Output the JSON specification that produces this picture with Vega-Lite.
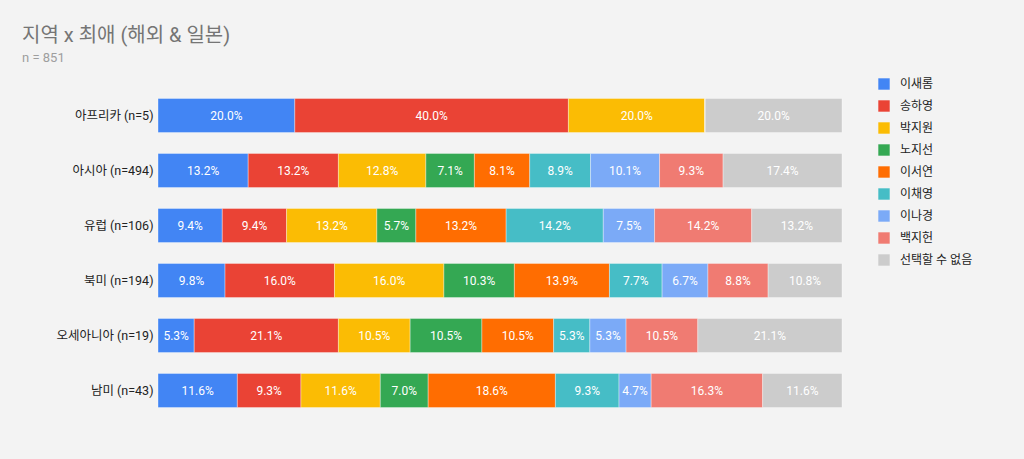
{
  "$schema": "https://vega.github.io/schema/vega-lite/v6.json",
  "description": "지역 x 최애 (해외 & 일본), 100% stacked bars",
  "autosize": {"type": "none"},
  "width": 684,
  "height": 330,
  "padding": {"left": 158, "top": 88, "right": 182, "bottom": 41},
  "background": "#f3f3f3",
  "title": {
    "text": "지역 x 최애 (해외 & 일본)",
    "subtitle": "n = 851",
    "anchor": "start",
    "frame": "group",
    "dx": -136,
    "offset": 13,
    "font": "Roboto, Noto Sans CJK KR",
    "fontSize": 20,
    "fontWeight": "normal",
    "color": "#757575",
    "subtitleFont": "Roboto, Noto Sans CJK KR",
    "subtitleFontSize": 13,
    "subtitleColor": "#9e9e9e",
    "subtitlePadding": 6
  },
  "data": {
    "values": [
      {"region": "아프리카 (n=5)", "pick": "이새롬", "k": 1, "pct": 0.2},
      {"region": "아프리카 (n=5)", "pick": "송하영", "k": 2, "pct": 0.4},
      {"region": "아프리카 (n=5)", "pick": "박지원", "k": 3, "pct": 0.2},
      {"region": "아프리카 (n=5)", "pick": "노지선", "k": 4, "pct": 0},
      {"region": "아프리카 (n=5)", "pick": "이서연", "k": 5, "pct": 0},
      {"region": "아프리카 (n=5)", "pick": "이채영", "k": 6, "pct": 0},
      {"region": "아프리카 (n=5)", "pick": "이나경", "k": 7, "pct": 0},
      {"region": "아프리카 (n=5)", "pick": "백지헌", "k": 8, "pct": 0},
      {"region": "아프리카 (n=5)", "pick": "선택할 수 없음", "k": 9, "pct": 0.2},

      {"region": "아시아 (n=494)", "pick": "이새롬", "k": 1, "pct": 0.132},
      {"region": "아시아 (n=494)", "pick": "송하영", "k": 2, "pct": 0.132},
      {"region": "아시아 (n=494)", "pick": "박지원", "k": 3, "pct": 0.128},
      {"region": "아시아 (n=494)", "pick": "노지선", "k": 4, "pct": 0.071},
      {"region": "아시아 (n=494)", "pick": "이서연", "k": 5, "pct": 0.081},
      {"region": "아시아 (n=494)", "pick": "이채영", "k": 6, "pct": 0.089},
      {"region": "아시아 (n=494)", "pick": "이나경", "k": 7, "pct": 0.101},
      {"region": "아시아 (n=494)", "pick": "백지헌", "k": 8, "pct": 0.093},
      {"region": "아시아 (n=494)", "pick": "선택할 수 없음", "k": 9, "pct": 0.174},

      {"region": "유럽 (n=106)", "pick": "이새롬", "k": 1, "pct": 0.094},
      {"region": "유럽 (n=106)", "pick": "송하영", "k": 2, "pct": 0.094},
      {"region": "유럽 (n=106)", "pick": "박지원", "k": 3, "pct": 0.132},
      {"region": "유럽 (n=106)", "pick": "노지선", "k": 4, "pct": 0.057},
      {"region": "유럽 (n=106)", "pick": "이서연", "k": 5, "pct": 0.132},
      {"region": "유럽 (n=106)", "pick": "이채영", "k": 6, "pct": 0.142},
      {"region": "유럽 (n=106)", "pick": "이나경", "k": 7, "pct": 0.075},
      {"region": "유럽 (n=106)", "pick": "백지헌", "k": 8, "pct": 0.142},
      {"region": "유럽 (n=106)", "pick": "선택할 수 없음", "k": 9, "pct": 0.132},

      {"region": "북미 (n=194)", "pick": "이새롬", "k": 1, "pct": 0.098},
      {"region": "북미 (n=194)", "pick": "송하영", "k": 2, "pct": 0.16},
      {"region": "북미 (n=194)", "pick": "박지원", "k": 3, "pct": 0.16},
      {"region": "북미 (n=194)", "pick": "노지선", "k": 4, "pct": 0.103},
      {"region": "북미 (n=194)", "pick": "이서연", "k": 5, "pct": 0.139},
      {"region": "북미 (n=194)", "pick": "이채영", "k": 6, "pct": 0.077},
      {"region": "북미 (n=194)", "pick": "이나경", "k": 7, "pct": 0.067},
      {"region": "북미 (n=194)", "pick": "백지헌", "k": 8, "pct": 0.088},
      {"region": "북미 (n=194)", "pick": "선택할 수 없음", "k": 9, "pct": 0.108},

      {"region": "오세아니아 (n=19)", "pick": "이새롬", "k": 1, "pct": 0.053},
      {"region": "오세아니아 (n=19)", "pick": "송하영", "k": 2, "pct": 0.211},
      {"region": "오세아니아 (n=19)", "pick": "박지원", "k": 3, "pct": 0.105},
      {"region": "오세아니아 (n=19)", "pick": "노지선", "k": 4, "pct": 0.105},
      {"region": "오세아니아 (n=19)", "pick": "이서연", "k": 5, "pct": 0.105},
      {"region": "오세아니아 (n=19)", "pick": "이채영", "k": 6, "pct": 0.053},
      {"region": "오세아니아 (n=19)", "pick": "이나경", "k": 7, "pct": 0.053},
      {"region": "오세아니아 (n=19)", "pick": "백지헌", "k": 8, "pct": 0.105},
      {"region": "오세아니아 (n=19)", "pick": "선택할 수 없음", "k": 9, "pct": 0.211},

      {"region": "남미 (n=43)", "pick": "이새롬", "k": 1, "pct": 0.116},
      {"region": "남미 (n=43)", "pick": "송하영", "k": 2, "pct": 0.093},
      {"region": "남미 (n=43)", "pick": "박지원", "k": 3, "pct": 0.116},
      {"region": "남미 (n=43)", "pick": "노지선", "k": 4, "pct": 0.07},
      {"region": "남미 (n=43)", "pick": "이서연", "k": 5, "pct": 0.186},
      {"region": "남미 (n=43)", "pick": "이채영", "k": 6, "pct": 0.093},
      {"region": "남미 (n=43)", "pick": "이나경", "k": 7, "pct": 0.047},
      {"region": "남미 (n=43)", "pick": "백지헌", "k": 8, "pct": 0.163},
      {"region": "남미 (n=43)", "pick": "선택할 수 없음", "k": 9, "pct": 0.116}
    ]
  },
  "encoding": {
    "y": {
      "field": "region",
      "type": "nominal",
      "sort": null,
      "title": null,
      "scale": {"paddingInner": 0.38, "paddingOuter": 0.19},
      "axis": {
        "domain": false,
        "ticks": false,
        "labelPadding": 5,
        "labelFont": "Roboto, Noto Sans CJK KR",
        "labelFontSize": 12.5,
        "labelColor": "#222222"
      }
    },
    "x": {
      "field": "pct",
      "type": "quantitative",
      "stack": "normalize",
      "title": null,
      "axis": null
    },
    "order": {"field": "k", "type": "quantitative"}
  },
  "layer": [
    {
      "mark": {"type": "bar", "stroke": "#ffffff", "strokeOpacity": 0.35, "strokeWidth": 1},
      "encoding": {
        "color": {
          "field": "pick",
          "type": "nominal",
          "sort": ["이새롬", "송하영", "박지원", "노지선", "이서연", "이채영", "이나경", "백지헌", "선택할 수 없음"],
          "scale": {
            "domain": ["이새롬", "송하영", "박지원", "노지선", "이서연", "이채영", "이나경", "백지헌", "선택할 수 없음"],
            "range": ["#4285f4", "#ea4335", "#fbbc04", "#34a853", "#ff6d01", "#46bdc6", "#7baaf7", "#f07b72", "#cccccc"]
          },
          "legend": {
            "title": null,
            "orient": "none",
            "legendX": 720,
            "legendY": -10,
            "symbolType": "square",
            "symbolSize": 130,
            "symbolStrokeWidth": 0,
            "symbolOpacity": 1,
            "labelFont": "Roboto, Noto Sans CJK KR",
            "labelFontSize": 12,
            "labelColor": "#222222",
            "labelOffset": 10,
            "rowPadding": 10
          }
        }
      }
    },
    {
      "transform": [{"filter": "datum.pct > 0"}],
      "mark": {"type": "text", "color": "#ffffff", "font": "Roboto", "fontSize": 12, "baseline": "middle"},
      "encoding": {
        "x": {"field": "pct", "type": "quantitative", "stack": "normalize", "bandPosition": 0.5},
        "text": {"field": "pct", "type": "quantitative", "format": ".1%"}
      }
    }
  ],
  "config": {"view": {"stroke": null}}
}
